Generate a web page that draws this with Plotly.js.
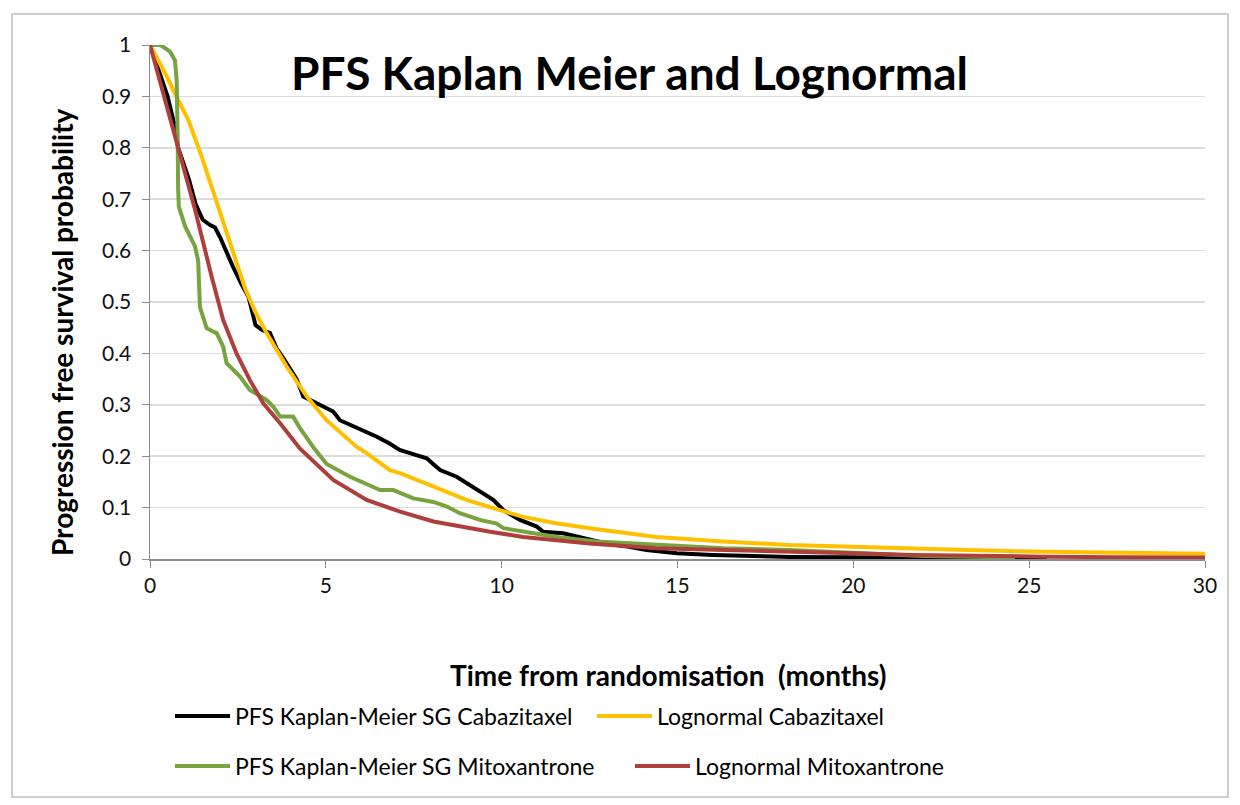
<!DOCTYPE html>
<html>
<head>
<meta charset="utf-8">
<script src="https://cdn.plot.ly/plotly-3.0.1.min.js"></script>
<style>html,body{margin:0;padding:0;background:#fff;}#chart{width:1240px;height:805px;}</style>
</head>
<body>
<div id="chart"></div>
<script>
// Kaplan-Meier SG Cabazitaxel (black)
const kmCabT = [0,0.3,0.5,0.71,0.8,0.95,1.1,1.3,1.5,1.7,1.85,2.0,2.15,2.35,2.6,2.8,3.0,3.2,3.41,3.6,3.8,4.0,4.17,4.36,4.7,5.02,5.21,5.4,5.8,6.1,6.45,6.8,7.1,7.39,7.87,8.05,8.25,8.72,9.0,9.29,9.5,9.76,10.05,10.52,11.0,11.18,11.75,12.5,13.0,13.5,14.12,14.98,16,18.2,20,22,25.5];
const kmCabS = [1,0.94,0.9,0.84,0.8,0.77,0.74,0.69,0.66,0.65,0.645,0.625,0.6,0.57,0.535,0.51,0.455,0.445,0.44,0.41,0.39,0.37,0.35,0.316,0.305,0.293,0.287,0.27,0.258,0.25,0.238,0.225,0.212,0.206,0.196,0.185,0.173,0.16,0.148,0.134,0.125,0.115,0.095,0.076,0.063,0.053,0.05,0.037,0.03,0.025,0.0175,0.011,0.008,0.004,0.003,0.002,0.0015];
// Lognormal Cabazitaxel (yellow)
const lnCabT = [0,0.43,0.8,1.09,1.47,1.94,2.32,2.7,3.0,3.32,3.89,4.46,5.02,5.5,5.88,6.16,6.82,7.11,8.06,9.0,9.95,10.61,11.5,12.5,14.4,16.3,18.2,20,21.7,23.5,25.5,27.5,30];
const lnCabS = [1,0.945,0.893,0.854,0.783,0.685,0.608,0.527,0.48,0.439,0.374,0.316,0.27,0.24,0.218,0.206,0.173,0.167,0.141,0.115,0.095,0.082,0.07,0.06,0.043,0.034,0.027,0.023,0.02,0.017,0.014,0.012,0.01];
// Kaplan-Meier SG Mitoxantrone (green)
const kmMitT = [0,0.3,0.57,0.71,0.76,0.78,0.79,0.8,0.82,1.0,1.28,1.37,1.4,1.42,1.61,1.9,2.08,2.18,2.56,2.84,3.32,3.51,3.7,4.07,4.26,4.64,5.02,5.69,6.54,6.92,7.49,8.06,8.44,8.81,9.38,9.86,10.05,10.61,11.56,12.7,14.4,16.3,18.2,20,22,24.6];
const kmMitS = [1,1,0.987,0.97,0.93,0.88,0.8,0.72,0.685,0.647,0.608,0.58,0.54,0.49,0.449,0.439,0.413,0.381,0.355,0.329,0.309,0.296,0.277,0.277,0.255,0.218,0.185,0.16,0.134,0.134,0.118,0.111,0.102,0.089,0.076,0.069,0.06,0.053,0.043,0.034,0.027,0.021,0.0175,0.012,0.006,0.003];
// Lognormal Mitoxantrone (red)
const lnMitT = [0,0.4,0.75,1.28,1.75,2.08,2.46,2.84,3.22,3.7,4.26,5.02,5.21,6.16,7.11,8.06,9.0,9.67,10.61,11.5,12.5,14.4,16.3,18.2,20,21.7,23.5,25.5,27.5,30];
const lnMitS = [1,0.9,0.81,0.68,0.55,0.465,0.4,0.348,0.303,0.264,0.215,0.165,0.154,0.115,0.092,0.073,0.061,0.053,0.043,0.036,0.03,0.021,0.017,0.014,0.011,0.008,0.006,0.0045,0.0035,0.003];

const seriesNames = ['PFS Kaplan-Meier SG Cabazitaxel','Lognormal Cabazitaxel','PFS Kaplan-Meier SG Mitoxantrone','Lognormal Mitoxantrone'];
const FONT = 'Lato, "Open Sans", sans-serif';

const data = [
  {x: kmCabT, y: kmCabS, name: seriesNames[0], legend: 'legend', mode: 'lines', line: {color: '#000000', width: 4}},
  {x: lnCabT, y: lnCabS, name: seriesNames[1], legend: 'legend2', mode: 'lines', line: {color: '#FFC000', width: 4}},
  {x: kmMitT, y: kmMitS, name: seriesNames[2], legend: 'legend3', mode: 'lines', line: {color: '#77A43F', width: 4}},
  {x: lnMitT, y: lnMitS, name: seriesNames[3], legend: 'legend4', mode: 'lines', line: {color: '#AE3F3C', width: 4}}
];

function legendAt(xp, yp) {
  return {x: xp, y: yp, xanchor: 'left', yanchor: 'middle', orientation: 'h', bgcolor: 'rgba(0,0,0,0)',
          itemwidth: 55, font: {family: FONT, size: 23, color: '#000'}, tracegroupgap: 0};
}
// plot area: x 150..1205, y 45..559
const px = v => (v - 150) / 1055;
const py = v => (559 - v) / 514;

const layout = {
  width: 1240, height: 805,
  margin: {l: 150, r: 35, t: 45, b: 246},
  paper_bgcolor: '#ffffff', plot_bgcolor: '#ffffff',
  showlegend: true,
  legend: legendAt(px(170), py(716)),
  legend2: legendAt(px(592), py(716)),
  legend3: legendAt(px(170), py(766)),
  legend4: legendAt(px(630), py(766)),
  xaxis: {range: [0, 30], dtick: 5, tick0: 0, showgrid: false, zeroline: false, showline: true,
          linecolor: '#8C8C8C', linewidth: 1.5, ticks: 'outside', ticklen: 7, tickcolor: '#8C8C8C',
          tickfont: {family: FONT, size: 21, color: '#111'}, fixedrange: true},
  yaxis: {range: [0, 1], dtick: 0.1, tick0: 0, showgrid: true, gridcolor: '#DCDCDC', gridwidth: 1.5,
          zeroline: false, showline: true, linecolor: '#8C8C8C', linewidth: 1.5, ticks: 'outside',
          ticklen: 7, tickcolor: '#8C8C8C', ticklabelstandoff: 6,
          tickfont: {family: FONT, size: 21, color: '#111'}, fixedrange: true},
  annotations: [
    {text: '<b>PFS Kaplan Meier and Lognormal</b>', xref: 'paper', yref: 'paper', x: px(629), y: py(72),
     xanchor: 'center', yanchor: 'middle', showarrow: false, font: {family: FONT, size: 46, color: '#000'}},
    {text: '<b>Time from randomisation  (months)</b>', xref: 'paper', yref: 'paper', x: px(668), y: py(675),
     xanchor: 'center', yanchor: 'middle', showarrow: false, font: {family: FONT, size: 28, color: '#000'}},
    {text: '<b>Progression free survival probability</b>', xref: 'paper', yref: 'paper', x: px(62), y: py(332),
     xanchor: 'center', yanchor: 'middle', textangle: -90, showarrow: false, font: {family: FONT, size: 28, color: '#000'}}
  ],
  shapes: [
    {type: 'rect', xref: 'paper', yref: 'paper', x0: px(12), x1: px(1228), y0: py(797), y1: py(14),
     line: {color: '#BDBDBD', width: 1.5}, fillcolor: 'rgba(0,0,0,0)', layer: 'below'}
  ]
};

Plotly.newPlot('chart', data, layout, {displayModeBar: false, staticPlot: true});
</script>
</body>
</html>
